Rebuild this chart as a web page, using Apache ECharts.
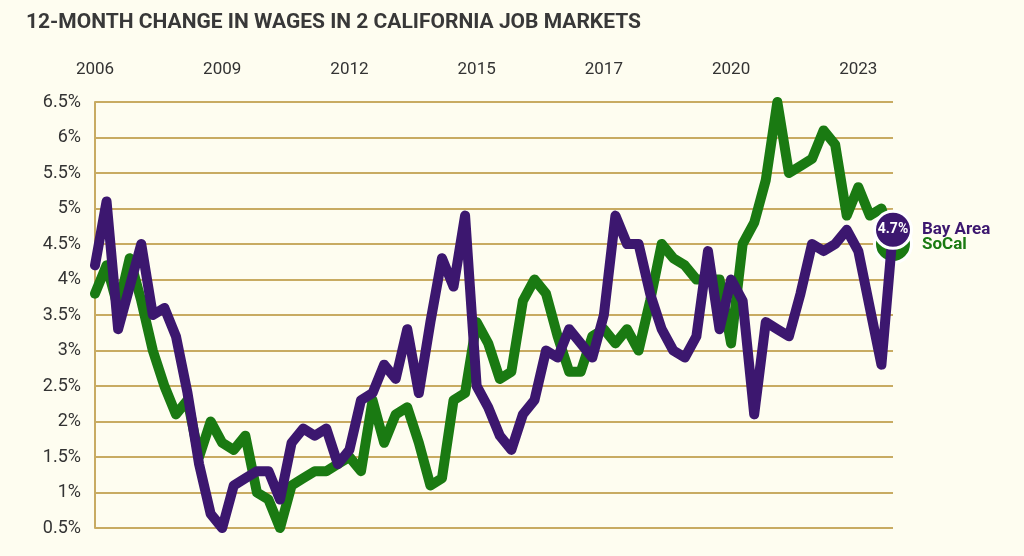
<!DOCTYPE html>
<html>
<head>
<meta charset="utf-8">
<script src="https://cdn.jsdelivr.net/npm/echarts@6/dist/echarts.min.js"></script>
<style>
  html, body { margin: 0; padding: 0; background: #fefdf0; }
  #chart { width: 1024px; height: 556px; }
</style>
</head>
<body>
<div id="chart"></div>
<script>
// 12-month wage change, one point per period (70 periods)
const xTicks = ['2006', '2009', '2012', '2015', '2017', '2020', '2023'];
const pointsPerTick = 11;

const bayArea = [
  4.2, 5.1, 3.3, 3.9, 4.5, 3.5, 3.6, 3.2, 2.4, 1.4,
  0.7, 0.5, 1.1, 1.2, 1.3, 1.3, 0.9, 1.7, 1.9, 1.8,
  1.9, 1.4, 1.6, 2.3, 2.4, 2.8, 2.6, 3.3, 2.4, 3.4,
  4.3, 3.9, 4.9, 2.5, 2.2, 1.8, 1.6, 2.1, 2.3, 3.0,
  2.9, 3.3, 3.1, 2.9, 3.5, 4.9, 4.5, 4.5, 3.8, 3.3,
  3.0, 2.9, 3.2, 4.4, 3.3, 4.0, 3.7, 2.1, 3.4, 3.3,
  3.2, 3.8, 4.5, 4.4, 4.5, 4.7, 4.4, 3.6, 2.8, 4.7
];
const soCal = [
  3.8, 4.2, 3.6, 4.3, 3.7, 3.0, 2.5, 2.1, 2.3, 1.5,
  2.0, 1.7, 1.6, 1.8, 1.0, 0.9, 0.5, 1.1, 1.2, 1.3,
  1.3, 1.4, 1.5, 1.3, 2.3, 1.7, 2.1, 2.2, 1.7, 1.1,
  1.2, 2.3, 2.4, 3.4, 3.1, 2.6, 2.7, 3.7, 4.0, 3.8,
  3.2, 2.7, 2.7, 3.2, 3.3, 3.1, 3.3, 3.0, 3.7, 4.5,
  4.3, 4.2, 4.0, 4.0, 4.0, 3.1, 4.5, 4.8, 5.4, 6.5,
  5.5, 5.6, 5.7, 6.1, 5.9, 4.9, 5.3, 4.9, 5.0, 4.5
];

// category per period; year text only where a tick label sits
const categories = bayArea.map((_, i) =>
  i % pointsPerTick === 0 ? xTicks[i / pointsPerTick] : 'p' + i);

const purple = '#3c176f';
const green = '#1a7a12';
const gold = '#c8ab62';

// last point gets the big round marker
function withEndMarker(values, color, showValue) {
  const data = values.slice();
  const last = data.length - 1;
  data[last] = {
    value: values[last],
    symbol: 'circle',
    symbolSize: 37,
    itemStyle: { color: color, borderColor: '#ffffff', borderWidth: 3 },
    label: {
      show: showValue,
      position: 'inside',
      formatter: '{c}%',
      color: '#ffffff',
      fontSize: 14,
      fontWeight: 'bold',
      fontFamily: 'Roboto'
    }
  };
  return data;
}

const chart = echarts.init(document.getElementById('chart'));
chart.setOption({
  backgroundColor: '#fefdf0',
  animation: false,
  title: {
    text: '12-MONTH CHANGE IN WAGES IN 2 CALIFORNIA JOB MARKETS',
    left: 21,
    top: 7,
    textStyle: {
      fontFamily: 'Roboto',
      fontSize: 21,
      fontWeight: 'bold',
      color: '#383838'
    }
  },
  grid: { left: 95, right: 131, top: 102, bottom: 28 },
  xAxis: {
    type: 'category',
    position: 'top',
    boundaryGap: false,
    data: categories,
    axisLine: { show: false },
    axisTick: { show: false },
    splitLine: { show: false },
    axisLabel: {
      interval: pointsPerTick - 1,
      margin: 24,
      color: '#333',
      fontSize: 17,
      fontFamily: 'Roboto'
    }
  },
  yAxis: {
    type: 'value',
    min: 0.5,
    max: 6.5,
    interval: 0.5,
    axisLine: { show: true, lineStyle: { color: gold, width: 2 } },
    axisTick: { show: false },
    splitLine: { lineStyle: { color: gold, width: 2 } },
    axisLabel: {
      formatter: '{value}%',
      margin: 14,
      color: '#333',
      fontSize: 18,
      fontFamily: 'Roboto'
    }
  },
  series: [
    {
      name: 'SoCal',
      type: 'line',
      data: withEndMarker(soCal, green, false),
      symbol: 'none',
      clip: false,
      lineStyle: { color: green, width: 10, cap: 'round', join: 'round' },
      itemStyle: { color: green },
      endLabel: {
        show: true,
        formatter: '{a}',
        distance: 29,
        offset: [0, 1],
        color: green,
        fontSize: 17,
        fontWeight: 'bold',
        fontFamily: 'Roboto'
      },
      z: 2
    },
    {
      name: 'Bay Area',
      type: 'line',
      data: withEndMarker(bayArea, purple, true),
      symbol: 'none',
      clip: false,
      lineStyle: { color: purple, width: 10, cap: 'round', join: 'round' },
      itemStyle: { color: purple },
      endLabel: {
        show: true,
        formatter: '{a}',
        distance: 29,
        color: purple,
        fontSize: 17,
        fontWeight: 'bold',
        fontFamily: 'Roboto'
      },
      z: 3
    }
  ]
});
</script>
</body>
</html>
